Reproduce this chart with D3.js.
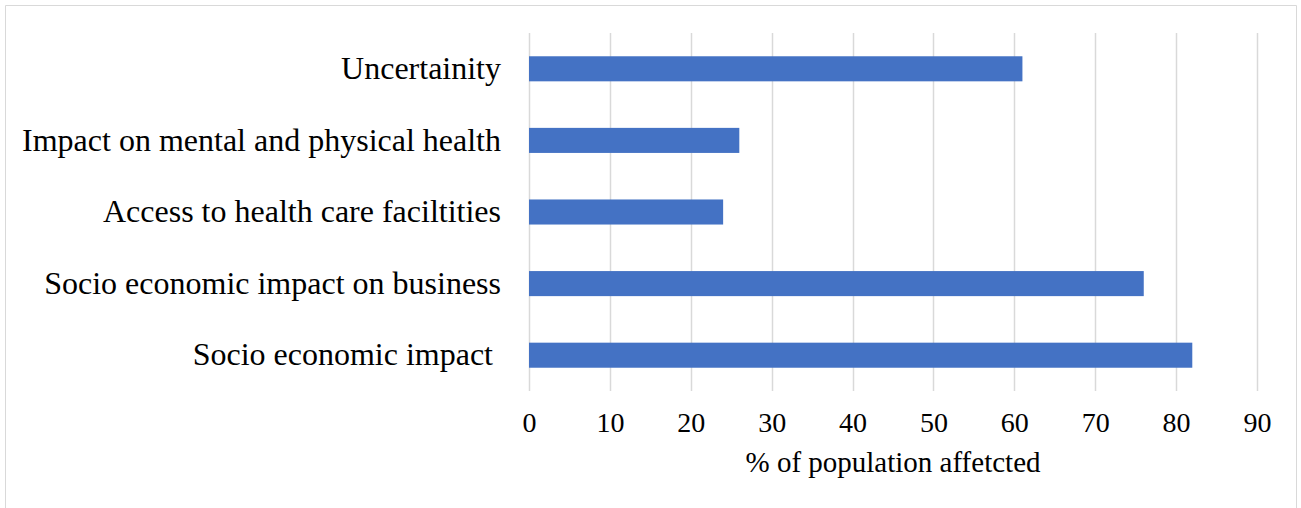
<!DOCTYPE html>
<html>
<head>
<meta charset="utf-8">
<script src="https://cdn.jsdelivr.net/npm/d3@7"></script>
<style>
  body { margin: 0; background: #fff; }
  text { font-family: "Liberation Serif", "Times New Roman", serif; fill: #000; white-space: pre; }
</style>
</head>
<body>
<div class="chart"></div>
<script>
const categories = ["Uncertainity", "Impact on mental and physical health", "Access to health care faciltities", "Socio economic impact on business", "Socio economic impact "];
const values = [61, 26, 24, 76, 82];
const xTicks = [0, 10, 20, 30, 40, 50, 60, 70, 80, 90];
const xTitle = "% of population affetcted";

const W = 1301, H = 508;
// plot area
var margin = {top: 33, left: 529, right: 44, bottom: 117};
var width = W - margin.left - margin.right,
    height = H - margin.top - margin.bottom;

var svg = d3.select(".chart")
  .append("svg")
    .attr("width", W)
    .attr("height", H);

// chart frame
svg.append("path")
  .attr("d", "M5.5," + H + "V5.5H1296.5V" + H)
  .attr("fill", "none")
  .attr("stroke", "#d9d9d9")
  .attr("stroke-width", 1);

var g = svg.append("g")
  .attr("transform", "translate(" + margin.left + "," + margin.top + ")");

var x = d3.scaleLinear().domain([0, 90]).range([0, width]);
var y = d3.scaleBand().domain(categories).range([0, height]).paddingInner(0.65).paddingOuter(0.325);

// gridlines
g.selectAll(".grid")
  .data(xTicks)
  .enter()
  .append("line")
    .attr("x1", d => Math.round(x(d)) + 0.5)
    .attr("x2", d => Math.round(x(d)) + 0.5)
    .attr("y1", 0)
    .attr("y2", height)
    .attr("stroke", "#d9d9d9")
    .attr("stroke-width", 1.5);

// bars
g.selectAll(".bar")
  .data(values)
  .enter()
  .append("rect")
    .attr("x", x(0))
    .attr("y", (d, i) => y(categories[i]))
    .attr("width", d => x(d) - x(0))
    .attr("height", y.bandwidth())
    .attr("fill", "#4472c4");

// x axis labels
var xAxis = g.append("g")
  .attr("transform", "translate(0," + height + ")")
  .call(d3.axisBottom(x).tickValues(xTicks).tickSize(0).tickPadding(21));
xAxis.attr("font-family", "'Liberation Serif', serif").attr("font-size", 28);
xAxis.select(".domain").remove();

// y axis labels
var yAxis = g.append("g")
  .call(d3.axisLeft(y).tickSize(0).tickPadding(28));
yAxis.attr("font-family", "'Liberation Serif', serif").attr("font-size", 32);
yAxis.select(".domain").remove();
yAxis.selectAll("text").attr("dy", "0.32em");

// axis title
svg.append("text")
  .attr("x", margin.left + width / 2)
  .attr("y", 472)
  .attr("text-anchor", "middle")
  .attr("font-size", 29)
  .text(xTitle);
</script>
</body>
</html>
